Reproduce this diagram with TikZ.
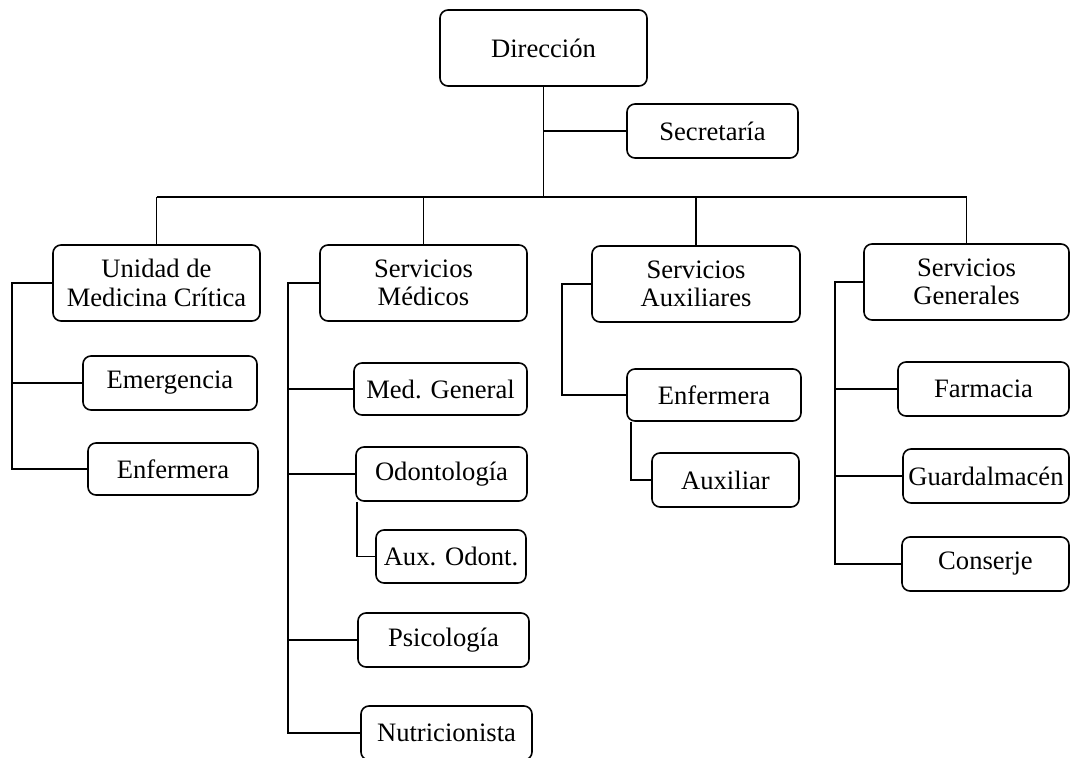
\documentclass[tikz,border=0pt]{standalone}
\usepackage{fontspec}
\setmainfont{Liberation Serif}
\tikzset{
  obox/.style={draw, rounded corners=4pt, line width=0.8pt, align=center, inner sep=0pt,
    font=\fontsize{13.3}{14.2}\selectfont},
  link/.style={line width=0.8pt}
}
\newcommand\orgbox[6]{\node[obox, minimum width={(#4-#2)*0.5pt}, minimum height={(#5-#3)*0.5pt}] (#1) at ({(#2+#4)/2},{(#3+#5)/2}) {#6};}
\begin{document}
\begin{tikzpicture}[x=0.5pt,y=-0.5pt]
\useasboundingbox (0,0) rectangle (1070,758);
\orgbox{dir}{440}{10}{647}{86}{Dirección}
\orgbox{sec}{627}{104}{798}{158}{Secretaría}
\orgbox{unidad}{53}{245}{260}{321}{Unidad de\\Medicina Crítica}
\orgbox{smed}{320}{245}{527}{321}{Servicios\\Médicos}
\orgbox{saux}{592}{246}{800}{322}{Servicios\\Auxiliares}
\orgbox{sgen}{864}{244}{1069}{320}{Servicios\\Generales}
\orgbox{emerg}{83}{356}{257}{410}{Emergencia}
\orgbox{enfa}{88}{443}{258}{495}{Enfermera}
\orgbox{medgen}{354}{363}{527}{415}{Med. General}
\orgbox{odon}{356}{447}{527}{501}{Odontología}
\orgbox{auxodon}{376}{530}{526}{583}{Aux. Odont.}
\orgbox{psic}{358}{613}{529}{667}{Psicología}
\orgbox{nutri}{361}{706}{532}{760}{Nutricionista}
\orgbox{enfb}{627}{369}{801}{421}{Enfermera}
\orgbox{auxil}{652}{453}{799}{507}{Auxiliar}
\orgbox{farm}{898}{362}{1069}{416}{Farmacia}
\orgbox{guard}{903}{449}{1069}{503}{Guardalmacén}
\orgbox{cons}{902}{537}{1069}{591}{Conserje}
\coordinate (bus) at (0,197);
\coordinate (spa) at (12,0);
\coordinate (spb) at (288,0);
\coordinate (spc) at (562,0);
\coordinate (spd) at (835,0);
% top
\draw[link] (dir.south) -- (dir.south |- bus);
\draw[link] (dir.south |- sec.west) -- (sec.west);
\draw[link] (unidad.north |- bus) -- (sgen.north |- bus);
\foreach \n in {unidad,smed,saux,sgen} \draw[link] (\n.north |- bus) -- (\n.north);
% Unidad
\draw[link] (unidad.west) -- (unidad.west -| spa) |- (enfa.west);
\draw[link] (unidad.west -| spa) |- (emerg.west);
% Servicios Medicos
\draw[link] (smed.west) -- (smed.west -| spb) |- (nutri.west);
\foreach \n in {medgen,odon,psic} \draw[link] (smed.west -| spb) |- (\n.west);
\draw[link] ([xshift=1pt]odon.south west) |- (auxodon.west);
% Servicios Auxiliares
\draw[link] (saux.west) -- (saux.west -| spc) |- (enfb.west);
\draw[link] ([xshift=2.5pt]enfb.south west) |- (auxil.west);
% Servicios Generales
\draw[link] (sgen.west) -- (sgen.west -| spd) |- (cons.west);
\foreach \n in {farm,guard} \draw[link] (sgen.west -| spd) |- (\n.west);
\end{tikzpicture}
\end{document}
